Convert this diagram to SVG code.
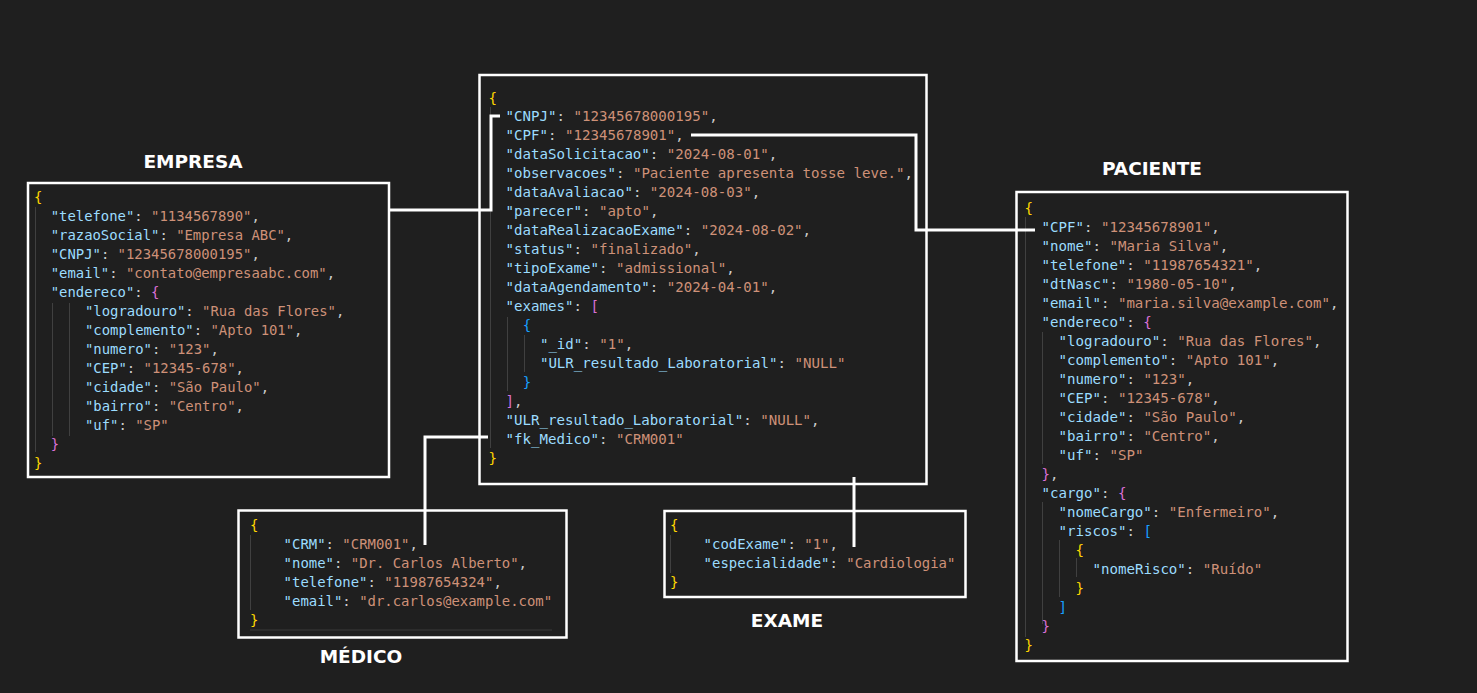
<svg xmlns="http://www.w3.org/2000/svg" width="1477" height="693" viewBox="0 0 1477 693">
<style>
.bg{fill:#1f1f1f}
.box{fill:#1f1f1f;stroke:#ffffff;stroke-width:2.5}
.conn{fill:none;stroke:#ffffff;stroke-width:3}
.guide{stroke:#404040;stroke-width:1}
.title{font-family:"DejaVu Sans","Liberation Sans",sans-serif;font-weight:bold;font-size:18.5px;fill:#ffffff;text-anchor:middle}
.code{font-family:"DejaVu Sans Mono","Liberation Mono",monospace;fill:#cccccc}
.k{fill:#9cdcfe}
.s{fill:#ce9178}
.g{fill:#ffd700}
.o{fill:#da70d6}
.b{fill:#179fff}
</style>
<rect class="bg" x="0" y="0" width="1477" height="693"/>

<g id="empresa">
<text class="title" x="193" y="168">EMPRESA</text>
<rect class="box" x="28" y="183" width="361" height="294"/>
<line class="guide" x1="35.5" y1="207" x2="35.5" y2="452"/>
<line class="guide" x1="52.5" y1="303" x2="52.5" y2="436"/>
<line class="guide" x1="69.5" y1="303" x2="69.5" y2="436"/>
<g class="code" font-size="13.9">
<text x="34" y="202" class="g">{</text>
<text x="50.7" y="221"><tspan class="k">"telefone"</tspan>: <tspan class="s">"1134567890"</tspan>,</text>
<text x="50.7" y="240"><tspan class="k">"razaoSocial"</tspan>: <tspan class="s">"Empresa ABC"</tspan>,</text>
<text x="50.7" y="259"><tspan class="k">"CNPJ"</tspan>: <tspan class="s">"12345678000195"</tspan>,</text>
<text x="50.7" y="278"><tspan class="k">"email"</tspan>: <tspan class="s">"contato@empresaabc.com"</tspan>,</text>
<text x="50.7" y="297"><tspan class="k">"endereco"</tspan>: <tspan class="o">{</tspan></text>
<text x="85" y="316"><tspan class="k">"logradouro"</tspan>: <tspan class="s">"Rua das Flores"</tspan>,</text>
<text x="85" y="335"><tspan class="k">"complemento"</tspan>: <tspan class="s">"Apto 101"</tspan>,</text>
<text x="85" y="354"><tspan class="k">"numero"</tspan>: <tspan class="s">"123"</tspan>,</text>
<text x="85" y="373"><tspan class="k">"CEP"</tspan>: <tspan class="s">"12345-678"</tspan>,</text>
<text x="85" y="392"><tspan class="k">"cidade"</tspan>: <tspan class="s">"São Paulo"</tspan>,</text>
<text x="85" y="411"><tspan class="k">"bairro"</tspan>: <tspan class="s">"Centro"</tspan>,</text>
<text x="85" y="430"><tspan class="k">"uf"</tspan>: <tspan class="s">"SP"</tspan></text>
<text x="50.7" y="449" class="o">}</text>
<text x="34" y="468" class="g">}</text>
</g>
</g>

<g id="avaliacao">
<rect class="box" x="479.5" y="75" width="447" height="409"/>
<line class="guide" x1="490.5" y1="107" x2="490.5" y2="448"/>
<line class="guide" x1="507.5" y1="317" x2="507.5" y2="391"/>
<line class="guide" x1="524.5" y1="335" x2="524.5" y2="372"/>
<g class="code" font-size="14.1">
<text x="488.5" y="103" class="g">{</text>
<text x="505.6" y="120.5"><tspan class="k">"CNPJ"</tspan>: <tspan class="s">"12345678000195"</tspan>,</text>
<text x="505.6" y="139.5"><tspan class="k">"CPF"</tspan>: <tspan class="s">"12345678901"</tspan>,</text>
<text x="505.6" y="158.5"><tspan class="k">"dataSolicitacao"</tspan>: <tspan class="s">"2024-08-01"</tspan>,</text>
<text x="505.6" y="177.5"><tspan class="k">"observacoes"</tspan>: <tspan class="s">"Paciente apresenta tosse leve."</tspan>,</text>
<text x="505.6" y="196.5"><tspan class="k">"dataAvaliacao"</tspan>: <tspan class="s">"2024-08-03"</tspan>,</text>
<text x="505.6" y="215.5"><tspan class="k">"parecer"</tspan>: <tspan class="s">"apto"</tspan>,</text>
<text x="505.6" y="234.5"><tspan class="k">"dataRealizacaoExame"</tspan>: <tspan class="s">"2024-08-02"</tspan>,</text>
<text x="505.6" y="253.5"><tspan class="k">"status"</tspan>: <tspan class="s">"finalizado"</tspan>,</text>
<text x="505.6" y="272.5"><tspan class="k">"tipoExame"</tspan>: <tspan class="s">"admissional"</tspan>,</text>
<text x="505.6" y="291.5"><tspan class="k">"dataAgendamento"</tspan>: <tspan class="s">"2024-04-01"</tspan>,</text>
<text x="505.6" y="310.5"><tspan class="k">"exames"</tspan>: <tspan class="o">[</tspan></text>
<text x="522.8" y="329.5" class="b">{</text>
<text x="539.9" y="348.5"><tspan class="k">"_id"</tspan>: <tspan class="s">"1"</tspan>,</text>
<text x="539.9" y="367.5"><tspan class="k">"ULR_resultado_Laboratorial"</tspan>: <tspan class="s">"NULL"</tspan></text>
<text x="522.8" y="386.5" class="b">}</text>
<text x="505.6" y="405.5"><tspan class="o">]</tspan>,</text>
<text x="505.6" y="424.5"><tspan class="k">"ULR_resultado_Laboratorial"</tspan>: <tspan class="s">"NULL"</tspan>,</text>
<text x="505.6" y="443.5"><tspan class="k">"fk_Medico"</tspan>: <tspan class="s">"CRM001"</tspan></text>
<text x="488.5" y="462.5" class="g">}</text>
</g>
</g>

<g id="paciente">
<text class="title" x="1152" y="175">PACIENTE</text>
<rect class="box" x="1016.5" y="192" width="331" height="469"/>
<line class="guide" x1="1025.5" y1="217" x2="1025.5" y2="637"/>
<line class="guide" x1="1042.5" y1="332" x2="1042.5" y2="464"/>
<line class="guide" x1="1042.5" y1="502" x2="1042.5" y2="624"/>
<line class="guide" x1="1059.5" y1="540" x2="1059.5" y2="597"/>
<line class="guide" x1="1076.5" y1="558" x2="1076.5" y2="577"/>
<g class="code" font-size="14.1">
<text x="1024.5" y="213" class="g">{</text>
<text x="1041.5" y="232"><tspan class="k">"CPF"</tspan>: <tspan class="s">"12345678901"</tspan>,</text>
<text x="1041.5" y="251"><tspan class="k">"nome"</tspan>: <tspan class="s">"Maria Silva"</tspan>,</text>
<text x="1041.5" y="270"><tspan class="k">"telefone"</tspan>: <tspan class="s">"11987654321"</tspan>,</text>
<text x="1041.5" y="289"><tspan class="k">"dtNasc"</tspan>: <tspan class="s">"1980-05-10"</tspan>,</text>
<text x="1041.5" y="308"><tspan class="k">"email"</tspan>: <tspan class="s">"maria.silva@example.com"</tspan>,</text>
<text x="1041.5" y="327"><tspan class="k">"endereco"</tspan>: <tspan class="o">{</tspan></text>
<text x="1058.5" y="346"><tspan class="k">"logradouro"</tspan>: <tspan class="s">"Rua das Flores"</tspan>,</text>
<text x="1058.5" y="365"><tspan class="k">"complemento"</tspan>: <tspan class="s">"Apto 101"</tspan>,</text>
<text x="1058.5" y="384"><tspan class="k">"numero"</tspan>: <tspan class="s">"123"</tspan>,</text>
<text x="1058.5" y="403"><tspan class="k">"CEP"</tspan>: <tspan class="s">"12345-678"</tspan>,</text>
<text x="1058.5" y="422"><tspan class="k">"cidade"</tspan>: <tspan class="s">"São Paulo"</tspan>,</text>
<text x="1058.5" y="441"><tspan class="k">"bairro"</tspan>: <tspan class="s">"Centro"</tspan>,</text>
<text x="1058.5" y="460"><tspan class="k">"uf"</tspan>: <tspan class="s">"SP"</tspan></text>
<text x="1041.5" y="479"><tspan class="o">}</tspan>,</text>
<text x="1041.5" y="498"><tspan class="k">"cargo"</tspan>: <tspan class="o">{</tspan></text>
<text x="1058.5" y="517"><tspan class="k">"nomeCargo"</tspan>: <tspan class="s">"Enfermeiro"</tspan>,</text>
<text x="1058.5" y="536"><tspan class="k">"riscos"</tspan>: <tspan class="b">[</tspan></text>
<text x="1075.5" y="555" class="g">{</text>
<text x="1092.5" y="574"><tspan class="k">"nomeRisco"</tspan>: <tspan class="s">"Ruído"</tspan></text>
<text x="1075.5" y="593" class="g">}</text>
<text x="1058.5" y="612" class="b">]</text>
<text x="1041.5" y="631" class="o">}</text>
<text x="1024.5" y="650" class="g">}</text>
</g>
</g>

<g id="medico">
<text class="title" x="361" y="663">MÉDICO</text>
<rect class="box" x="238.5" y="510.5" width="328" height="127"/>
<line class="guide" x1="250.5" y1="535" x2="250.5" y2="610"/>
<line x1="250" y1="630" x2="552" y2="630" stroke="#2c2c2c" stroke-width="2"/>
<g class="code" font-size="13.94">
<text x="250" y="530" class="g">{</text>
<text x="283.6" y="548.5"><tspan class="k">"CRM"</tspan>: <tspan class="s">"CRM001"</tspan>,</text>
<text x="283.6" y="567.5"><tspan class="k">"nome"</tspan>: <tspan class="s">"Dr. Carlos Alberto"</tspan>,</text>
<text x="283.6" y="586.5"><tspan class="k">"telefone"</tspan>: <tspan class="s">"11987654324"</tspan>,</text>
<text x="283.6" y="605.5"><tspan class="k">"email"</tspan>: <tspan class="s">"dr.carlos@example.com"</tspan></text>
<text x="250" y="624.5" class="g">}</text>
</g>
</g>

<g id="exame">
<text class="title" x="787" y="627">EXAME</text>
<rect class="box" x="664.5" y="511" width="301" height="86"/>
<line class="guide" x1="670.5" y1="535" x2="670.5" y2="573"/>
<g class="code" font-size="13.94">
<text x="670" y="530" class="g">{</text>
<text x="703.6" y="549"><tspan class="k">"codExame"</tspan>: <tspan class="s">"1"</tspan>,</text>
<text x="703.6" y="568"><tspan class="k">"especialidade"</tspan>: <tspan class="s">"Cardiologia"</tspan></text>
<text x="670" y="587" class="g">}</text>
</g>
</g>

<g id="connectors">
<path class="conn" d="M388,210 H491 V116 H500"/>
<path class="conn" d="M691,135 H916 V230 H1035"/>
<path class="conn" d="M488,437 H425 V545"/>
<path class="conn" d="M854,477 V547"/>
</g>
</svg>
